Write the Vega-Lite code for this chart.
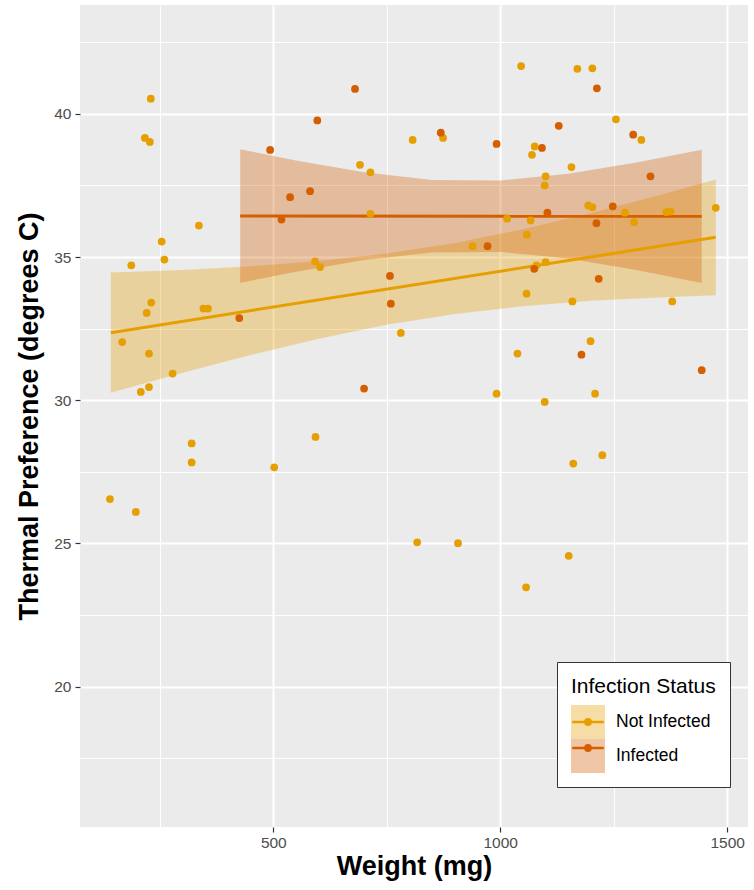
{
  "$schema": "https://vega.github.io/schema/vega-lite/v6.json",
  "width": 668,
  "height": 822,
  "autosize": {"type": "none"},
  "padding": {"left": 80, "top": 5, "right": 6, "bottom": 63},
  "background": "white",
  "config": {
    "font": "Liberation Sans",
    "view": {"fill": "#EBEBEB", "stroke": null},
    "axis": {
      "domain": false,
      "gridColor": "white",
      "tickColor": "#333333",
      "tickSize": 5,
      "tickWidth": 1.2,
      "labelColor": "#4D4D4D",
      "labelFont": "Liberation Sans",
      "labelFontSize": 15.5,
      "titleFont": "Liberation Sans",
      "titleFontSize": 27,
      "titleFontWeight": "bold",
      "titleColor": "black"
    }
  },
  "datasets": {
    "pts": [
      {"w": 230, "t": 40.53, "s": "Not Infected"}, {"w": 217, "t": 39.16, "s": "Not Infected"}, {"w": 228, "t": 39.02, "s": "Not Infected"},
      {"w": 807, "t": 39.09, "s": "Not Infected"}, {"w": 691, "t": 38.22, "s": "Not Infected"}, {"w": 714, "t": 37.96, "s": "Not Infected"},
      {"w": 714, "t": 36.51, "s": "Not Infected"}, {"w": 336, "t": 36.10, "s": "Not Infected"}, {"w": 254, "t": 35.54, "s": "Not Infected"},
      {"w": 260, "t": 34.91, "s": "Not Infected"}, {"w": 187, "t": 34.71, "s": "Not Infected"}, {"w": 592, "t": 34.85, "s": "Not Infected"},
      {"w": 603, "t": 34.65, "s": "Not Infected"}, {"w": 781, "t": 32.35, "s": "Not Infected"}, {"w": 231, "t": 33.41, "s": "Not Infected"},
      {"w": 221, "t": 33.05, "s": "Not Infected"}, {"w": 346, "t": 33.20, "s": "Not Infected"}, {"w": 356, "t": 33.20, "s": "Not Infected"},
      {"w": 167, "t": 32.03, "s": "Not Infected"}, {"w": 226, "t": 31.63, "s": "Not Infected"}, {"w": 278, "t": 30.93, "s": "Not Infected"},
      {"w": 226, "t": 30.46, "s": "Not Infected"}, {"w": 208, "t": 30.29, "s": "Not Infected"}, {"w": 320, "t": 28.49, "s": "Not Infected"},
      {"w": 320, "t": 27.83, "s": "Not Infected"}, {"w": 593, "t": 28.72, "s": "Not Infected"}, {"w": 502, "t": 27.66, "s": "Not Infected"},
      {"w": 140, "t": 26.55, "s": "Not Infected"}, {"w": 197, "t": 26.10, "s": "Not Infected"}, {"w": 817, "t": 25.04, "s": "Not Infected"},
      {"w": 1046, "t": 41.67, "s": "Not Infected"}, {"w": 1170, "t": 41.57, "s": "Not Infected"}, {"w": 1203, "t": 41.59, "s": "Not Infected"},
      {"w": 1255, "t": 39.81, "s": "Not Infected"}, {"w": 1311, "t": 39.09, "s": "Not Infected"}, {"w": 874, "t": 39.16, "s": "Not Infected"},
      {"w": 1076, "t": 38.86, "s": "Not Infected"}, {"w": 1070, "t": 38.57, "s": "Not Infected"}, {"w": 1157, "t": 38.14, "s": "Not Infected"},
      {"w": 1100, "t": 37.82, "s": "Not Infected"}, {"w": 1098, "t": 37.50, "s": "Not Infected"}, {"w": 1194, "t": 36.80, "s": "Not Infected"},
      {"w": 1203, "t": 36.74, "s": "Not Infected"}, {"w": 1275, "t": 36.55, "s": "Not Infected"}, {"w": 1366, "t": 36.57, "s": "Not Infected"},
      {"w": 1375, "t": 36.59, "s": "Not Infected"}, {"w": 1475, "t": 36.72, "s": "Not Infected"}, {"w": 1015, "t": 36.34, "s": "Not Infected"},
      {"w": 1067, "t": 36.28, "s": "Not Infected"}, {"w": 1295, "t": 36.22, "s": "Not Infected"}, {"w": 1059, "t": 35.78, "s": "Not Infected"},
      {"w": 939, "t": 35.38, "s": "Not Infected"}, {"w": 1080, "t": 34.71, "s": "Not Infected"}, {"w": 1100, "t": 34.82, "s": "Not Infected"},
      {"w": 1058, "t": 33.72, "s": "Not Infected"}, {"w": 1159, "t": 33.45, "s": "Not Infected"}, {"w": 1379, "t": 33.45, "s": "Not Infected"},
      {"w": 1199, "t": 32.06, "s": "Not Infected"}, {"w": 1038, "t": 31.63, "s": "Not Infected"}, {"w": 992, "t": 30.23, "s": "Not Infected"},
      {"w": 1098, "t": 29.94, "s": "Not Infected"}, {"w": 1209, "t": 30.23, "s": "Not Infected"}, {"w": 1161, "t": 27.79, "s": "Not Infected"},
      {"w": 1225, "t": 28.08, "s": "Not Infected"}, {"w": 907, "t": 25.01, "s": "Not Infected"}, {"w": 1151, "t": 24.57, "s": "Not Infected"},
      {"w": 1057, "t": 23.47, "s": "Not Infected"},
      {"w": 680, "t": 40.87, "s": "Infected"}, {"w": 597, "t": 39.77, "s": "Infected"}, {"w": 493, "t": 38.74, "s": "Infected"},
      {"w": 581, "t": 37.30, "s": "Infected"}, {"w": 537, "t": 37.09, "s": "Infected"}, {"w": 518, "t": 36.31, "s": "Infected"},
      {"w": 425, "t": 32.87, "s": "Infected"}, {"w": 757, "t": 34.34, "s": "Infected"}, {"w": 759, "t": 33.37, "s": "Infected"},
      {"w": 700, "t": 30.41, "s": "Infected"}, {"w": 869, "t": 39.34, "s": "Infected"}, {"w": 992, "t": 38.95, "s": "Infected"},
      {"w": 1092, "t": 38.81, "s": "Infected"}, {"w": 1129, "t": 39.58, "s": "Infected"}, {"w": 1213, "t": 40.89, "s": "Infected"},
      {"w": 1293, "t": 39.27, "s": "Infected"}, {"w": 1331, "t": 37.82, "s": "Infected"}, {"w": 1248, "t": 36.77, "s": "Infected"},
      {"w": 1104, "t": 36.55, "s": "Infected"}, {"w": 1217, "t": 34.24, "s": "Infected"}, {"w": 1179, "t": 31.59, "s": "Infected"},
      {"w": 1444, "t": 31.05, "s": "Infected"}, {"w": 972, "t": 35.38, "s": "Infected"}, {"w": 1212, "t": 36.18, "s": "Infected"},
      {"w": 1075, "t": 34.59, "s": "Infected"}
    ],
    "band": [
      {"w": 142, "lo": 30.26, "hi": 34.46, "s": "Not Infected"},
      {"w": 300, "lo": 30.96, "hi": 34.55, "s": "Not Infected"},
      {"w": 450, "lo": 31.58, "hi": 34.68, "s": "Not Infected"},
      {"w": 600, "lo": 32.15, "hi": 34.86, "s": "Not Infected"},
      {"w": 750, "lo": 32.64, "hi": 35.12, "s": "Not Infected"},
      {"w": 900, "lo": 33.01, "hi": 35.49, "s": "Not Infected"},
      {"w": 1050, "lo": 33.28, "hi": 35.97, "s": "Not Infected"},
      {"w": 1200, "lo": 33.47, "hi": 36.54, "s": "Not Infected"},
      {"w": 1350, "lo": 33.59, "hi": 37.16, "s": "Not Infected"},
      {"w": 1475, "lo": 33.67, "hi": 37.71, "s": "Not Infected"},
      {"w": 427, "lo": 34.10, "hi": 38.76, "s": "Infected"},
      {"w": 550, "lo": 34.49, "hi": 38.37, "s": "Infected"},
      {"w": 700, "lo": 34.90, "hi": 37.96, "s": "Infected"},
      {"w": 850, "lo": 35.16, "hi": 37.69, "s": "Infected"},
      {"w": 1000, "lo": 35.18, "hi": 37.67, "s": "Infected"},
      {"w": 1150, "lo": 34.95, "hi": 37.91, "s": "Infected"},
      {"w": 1300, "lo": 34.55, "hi": 38.30, "s": "Infected"},
      {"w": 1444, "lo": 34.09, "hi": 38.75, "s": "Infected"}
    ],
    "fit": [
      {"w": 142, "f": 32.36, "s": "Not Infected"},
      {"w": 1475, "f": 35.69, "s": "Not Infected"},
      {"w": 427, "f": 36.43, "s": "Infected"},
      {"w": 1444, "f": 36.42, "s": "Infected"}
    ]
  },
  "layer": [
    {
      "data": {"name": "band"},
      "mark": {"type": "area", "fillOpacity": 0.33, "strokeWidth": 0},
      "encoding": {
        "x": {
          "field": "w", "type": "quantitative", "title": "Weight (mg)",
          "scale": {"domain": [74, 1546], "nice": false, "zero": false},
          "axis": {
            "values": [250, 500, 750, 1000, 1250, 1500],
            "format": "d",
            "labelExpr": "datum.value % 500 === 0 ? datum.label : ''",
            "gridWidth": {"condition": {"test": "datum.value % 500 === 0", "value": 2}, "value": 1},
            "tickOpacity": {"condition": {"test": "datum.value % 500 === 0", "value": 1}, "value": 0},
            "labelPadding": 3, "titlePadding": 3, "labelFlush": false
          }
        },
        "y": {
          "field": "lo", "type": "quantitative", "title": "Thermal Preference (degrees C)",
          "scale": {"domain": [15.1, 43.8], "nice": false, "zero": false},
          "axis": {
            "values": [17.5, 20, 22.5, 25, 27.5, 30, 32.5, 35, 37.5, 40, 42.5],
            "labelExpr": "datum.value % 5 === 0 ? datum.label : ''",
            "gridWidth": {"condition": {"test": "datum.value % 5 === 0", "value": 2}, "value": 1},
            "tickOpacity": {"condition": {"test": "datum.value % 5 === 0", "value": 1}, "value": 0},
            "labelPadding": 4, "titlePadding": 10, "labelFlush": false
          }
        },
        "y2": {"field": "hi"},
        "fill": {
          "field": "s", "type": "nominal", "sort": ["Not Infected", "Infected"],
          "scale": {"range": ["#E69F00", "#D55E00"]},
          "legend": {
            "orient": "none", "legendX": 477, "legendY": 657,
            "title": "Infection Status", "titleFontSize": 21, "titleFontWeight": "normal", "titleColor": "black",
            "titlePadding": 8, "labelFontSize": 17.5, "labelColor": "black", "labelOffset": 11,
            "symbolType": "square", "symbolSize": 1156, "symbolOpacity": 0.35, "symbolStrokeWidth": 0,
            "padding": 14, "fillColor": "white", "strokeColor": "#333333", "rowPadding": 0
          }
        }
      }
    },
    {
      "data": {"name": "fit"},
      "mark": {"type": "line", "strokeWidth": 3},
      "encoding": {
        "x": {"field": "w", "type": "quantitative", "scale": {"domain": [74, 1546], "nice": false, "zero": false}},
        "y": {"field": "f", "type": "quantitative", "scale": {"domain": [15.1, 43.8], "nice": false, "zero": false}},
        "stroke": {
          "field": "s", "type": "nominal", "sort": ["Not Infected", "Infected"],
          "scale": {"range": ["#E69F00", "#D55E00"]},
          "legend": {
            "orient": "none", "legendX": 477, "legendY": 657,
            "title": " ", "titleFontSize": 21, "titleFontWeight": "normal",
            "titlePadding": 8, "labelFontSize": 17.5, "labelExpr": "''", "labelOffset": 11,
            "symbolType": "M-1,0H1M0.07,0A0.07,0.07 0 1,0 -0.07,0A0.07,0.07 0 1,0 0.07,0M0.17,0A0.17,0.17 0 1,0 -0.17,0A0.17,0.17 0 1,0 0.17,0",
            "symbolSize": 992.25, "symbolStrokeWidth": 2.5, "symbolFillColor": "transparent",
            "padding": 14, "rowPadding": 0
          }
        }
      }
    },
    {
      "data": {"name": "pts"},
      "mark": {"type": "circle", "size": 60, "opacity": 1},
      "encoding": {
        "x": {"field": "w", "type": "quantitative", "scale": {"domain": [74, 1546], "nice": false, "zero": false}},
        "y": {"field": "t", "type": "quantitative", "scale": {"domain": [15.1, 43.8], "nice": false, "zero": false}},
        "color": {
          "field": "s", "type": "nominal", "sort": ["Not Infected", "Infected"],
          "scale": {"range": ["#E69F00", "#D55E00"]},
          "legend": null
        }
      }
    }
  ]
}
